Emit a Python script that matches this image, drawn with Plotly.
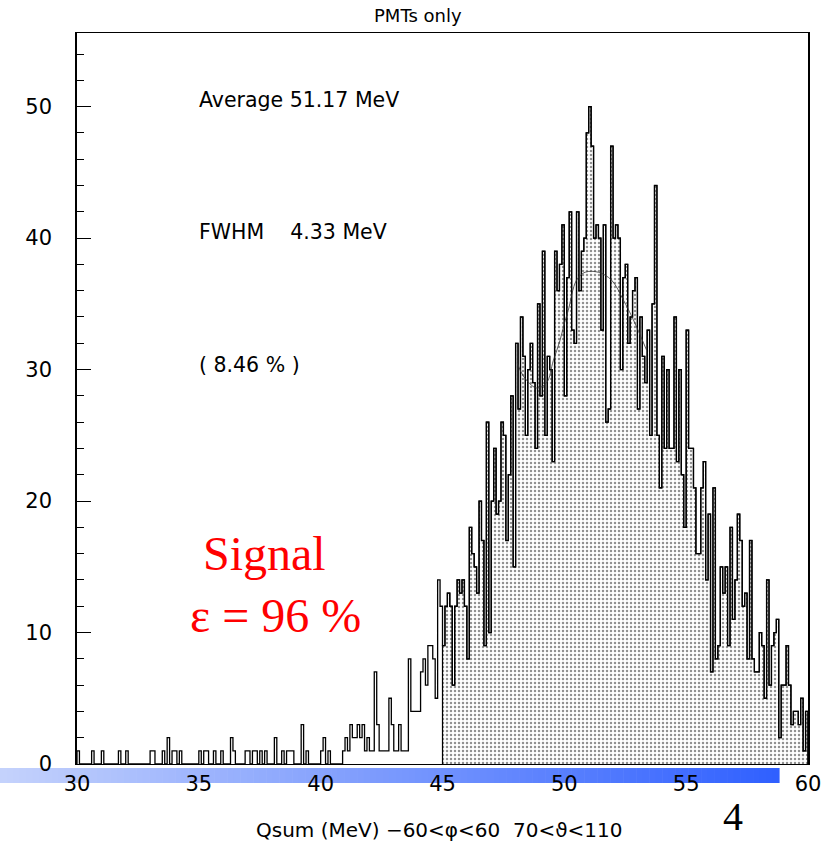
import numpy as np
import plotly.graph_objects as go

# ---- histogram contents: 0.1 MeV bins from 30 to 60 MeV ----
BIN_LO, BIN_HI, BIN_W = 30.0, 60.0, 0.1

counts_30_40 = [
    1, 0, 0, 0, 0, 0, 1, 0, 0, 0,
    1, 0, 0, 0, 0, 0, 0, 1, 0, 0,
    1, 0, 0, 0, 0, 0, 0, 0, 0, 0,
    1, 1, 0, 0, 0, 1, 0, 2, 0, 1,
    1, 0, 1, 0, 0, 0, 0, 0, 0, 0,
    1, 0, 1, 1, 0, 0, 1, 0, 0, 1,
    0, 0, 0, 2, 1, 0, 0, 0, 0, 1,
    1, 0, 1, 1, 0, 1, 0, 1, 0, 0,
    0, 2, 0, 0, 1, 0, 1, 1, 1, 0,
    0, 0, 3, 0, 1, 0, 0, 0, 0, 0,
]
counts_40_45 = [
    1, 2, 0, 1, 0, 0, 0, 0, 0, 1,
    2, 1, 3, 2, 2, 3, 2, 3, 1, 2,
    1, 1, 7, 3, 1, 1, 1, 1, 5, 3,
    1, 1, 3, 1, 1, 1, 8, 4, 4, 4,
    4, 7, 8, 6, 9, 9, 8, 5, 14, 12,
]
counts_45_50 = [
    9, 12, 13, 12, 6, 12, 14, 13, 14, 12,
    8, 18, 16, 15, 13, 20, 17, 9, 26, 10,
    20, 24, 19, 20, 26, 25, 17, 22, 28, 15,
    32, 27, 34, 31, 25, 30, 32, 29, 24, 35,
    28, 39, 25, 31, 30, 23, 39, 36, 38, 41,
]
counts_50_55 = [
    28, 37, 42, 33, 32, 42, 36, 39, 40, 48,
    50, 47, 40, 41, 40, 33, 41, 26, 27, 47,
    40, 41, 40, 30, 37, 38, 32, 34, 36, 37,
    27, 34, 31, 29, 33, 25, 35, 44, 25, 21,
    31, 24, 30, 24, 24, 34, 23, 30, 22, 18,
]
counts_55_60 = [
    33, 24, 24, 21, 16, 16, 21, 23, 14, 19,
    7, 21, 8, 9, 15, 13, 15, 9, 18, 11,
    14, 19, 17, 12, 13, 8, 17, 8, 7, 7,
    10, 9, 5, 14, 6, 9, 10, 11, 2, 6,
    6, 9, 6, 3, 4, 4, 3, 5, 1, 4,
]

# smooth curve over the peak
curve_x = [48.07, 48.32, 48.86, 49.27, 49.55, 49.82, 50.0, 50.16, 50.5,
           50.85, 51.4, 51.94, 52.42, 52.83, 53.37]
curve_y = [30.5, 29.5, 28.6, 29.0, 30.7, 32.2, 33.5, 34.5, 36.8,
           37.4, 37.4, 36.8, 35.3, 33.8, 31.5]

CUT = 45.0  # events above this energy are shaded

x_ticks = [30, 35, 40, 45, 50, 55, 60]
y_ticks = [0, 10, 20, 30, 40, 50]

stats_lines = ["Average 51.17 MeV", "FWHM\u00a0\u00a0\u00a0\u00a04.33 MeV", "(\u00a08.46\u00a0%\u00a0)"]

# ---------------------------------------------------------------
counts = np.array(counts_30_40 + counts_40_45 + counts_45_50 + counts_50_55 + counts_55_60, float)
nbins = len(counts)
edges = BIN_LO + BIN_W * np.arange(nbins + 1)


def step_path(e, c):
    xs = np.repeat(e, 2)
    ys = np.concatenate([[0.0], np.repeat(c, 2), [0.0]])
    return xs, ys


i_cut = int(round((CUT - BIN_LO) / BIN_W))
fx, fy = step_path(edges[i_cut:], counts[i_cut:])
ox, oy = step_path(edges, counts)

fig = go.Figure()
fig.add_trace(go.Scatter(
    x=fx, y=fy, mode="lines", fill="tozeroy",
    line=dict(color="black", width=1.2),
    fillcolor="white",
    fillpattern=dict(shape=".", fgcolor="#222222", bgcolor="white",
                     size=4, solidity=0.3),
    hoverinfo="skip", showlegend=False,
))
fig.add_trace(go.Scatter(
    x=ox, y=oy, mode="lines",
    line=dict(color="black", width=1.3),
    hoverinfo="skip", showlegend=False,
))
fig.add_trace(go.Scatter(
    x=curve_x, y=curve_y, mode="lines",
    line=dict(color="#333333", width=0.8, shape="spline"),
    hoverinfo="skip", showlegend=False,
))

W, H = 836, 846
L, R, T, B = 77, 28, 33, 82
pw, ph = W - L - R, H - T - B


def px(xp):
    return (xp - L) / pw


def py(yp):
    return (H - B - yp) / ph


# blue gradient band under the energy axis
n_strips = 120
band_left, band_right = 0, 779
c0, c1 = np.array([196, 210, 252]), np.array([48, 96, 255])
for k in range(n_strips):
    a = band_left + (band_right - band_left) * k / n_strips
    b = band_left + (band_right - band_left) * (k + 1) / n_strips + 0.6
    t = k / (n_strips - 1)
    c = (c0 + (c1 - c0) * t).round().astype(int)
    fig.add_shape(type="rect", xref="paper", yref="paper",
                  x0=px(a), x1=px(b), y0=py(768), y1=py(783),
                  fillcolor=f"rgb({c[0]},{c[1]},{c[2]})",
                  line=dict(width=0), layer="below")

tick_font = dict(family="DejaVu Sans", size=21, color="black")
fig.update_xaxes(
    range=[BIN_LO, BIN_HI], tickvals=x_ticks, ticktext=[str(v) for v in x_ticks],
    ticks="", showgrid=False, zeroline=False,
    showline=True, linecolor="black", linewidth=1, mirror=True,
    tickfont=tick_font, ticklabelstandoff=1,
)
fig.update_yaxes(
    range=[0, 55.6], tickvals=y_ticks, ticktext=[str(v) for v in y_ticks],
    ticks="inside", ticklen=14, tickcolor="black", tickwidth=1,
    minor=dict(dtick=2, tick0=0, ticks="inside", ticklen=7, tickcolor="black", showgrid=False),
    showgrid=False, zeroline=False,
    showline=True, linecolor="black", linewidth=1.5, mirror=True,
    tickfont=tick_font, ticklabelstandoff=19,
)

ann = []
ann.append(dict(text="PMTs only", x=px(418), y=py(16), xanchor="center", yanchor="middle",
                font=dict(family="DejaVu Sans", size=18, color="black")))
for txt, yy in zip(stats_lines, [100, 232, 365]):
    ann.append(dict(text=txt, x=px(197), y=py(yy), xanchor="left", yanchor="middle",
                    font=dict(family="DejaVu Sans", size=20.5, color="black")))
ann.append(dict(text="Signal", x=px(201), y=py(553), xanchor="left", yanchor="middle",
                font=dict(family="Liberation Serif", size=48, color="#ff0000")))
ann.append(dict(text="\u03b5 = 96 %", x=px(188), y=py(615), xanchor="left", yanchor="middle",
                font=dict(family="Liberation Serif", size=48, color="#ff0000")))
ann.append(dict(text="4", x=px(733), y=py(816), xanchor="center", yanchor="middle",
                font=dict(family="Liberation Serif", size=40, color="black")))
ann.append(dict(text="Qsum (MeV) \u221260<\u03c6<60\u00a0\u00a070<\u03d1<110", x=px(254), y=py(830),
                xanchor="left", yanchor="middle",
                font=dict(family="DejaVu Sans", size=20, color="black")))
for a in ann:
    a.update(xref="paper", yref="paper", showarrow=False)

fig.update_layout(
    width=W, height=H,
    margin=dict(l=L, r=R, t=T, b=B, pad=0),
    paper_bgcolor="white", plot_bgcolor="white",
    annotations=ann, showlegend=False,
)

fig.write_html("out.html")
